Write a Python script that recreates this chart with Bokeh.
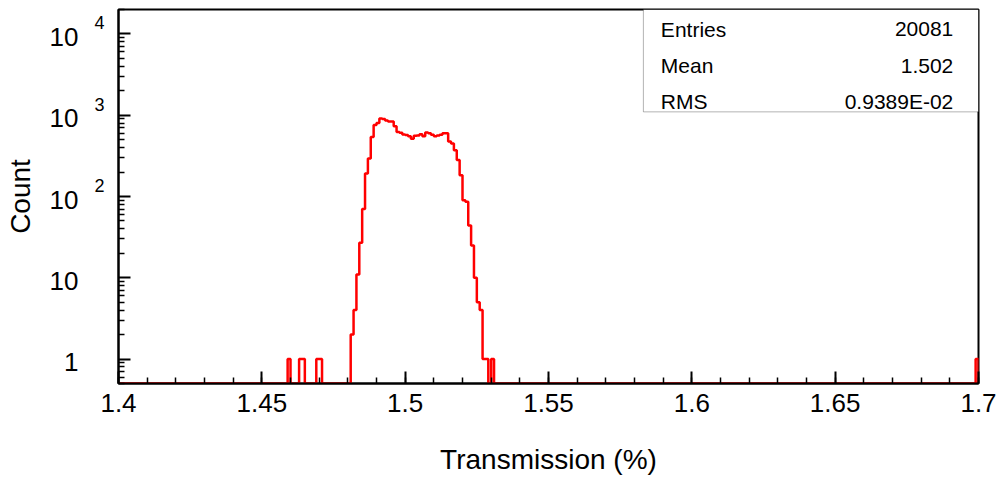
import numpy as np
from bokeh.plotting import figure
from bokeh.models import Range1d, FixedTicker, Label, BoxAnnotation, LogAxis
from bokeh.embed import file_html
from bokeh.resources import INLINE

# ---------------- data ----------------
bin_low = 1.4
bin_high = 1.7
n_bins = 300

# main peak, consecutive bins starting at 1.481 (bin width 0.001)
peak_first_bin = 1.481
peak_counts = [2, 4, 11, 27, 70, 192, 294, 540, 760, 800,
               910, 900, 860, 840, 840, 730, 620, 610, 580, 570,
               550, 515, 560, 565, 585, 550, 615, 600, 575, 550,
               565, 575, 600, 600, 475, 450, 372, 281, 183, 90,
               86, 44, 25, 10, 5, 4, 1, 1, 0, 1]

# isolated single-entry bins (lower edges)
isolated_bins = [1.459, 1.463, 1.464, 1.469, 1.470, 1.699]
isolated_counts = [1, 1, 1, 1, 1, 1]

x_ticks = [1.4, 1.45, 1.5, 1.55, 1.6, 1.65, 1.7]
x_tick_labels = ["1.4", "1.45", "1.5", "1.55", "1.6", "1.65", "1.7"]

y_ticks = [1, 10, 100, 1000, 10000]
y_tick_labels = ["1", "10", "10", "10", "10"]
y_tick_exponents = ["", "", "2", "3", "4"]

stat_names = ["Entries", "Mean", "RMS"]
stat_values = ["20081", "1.502", "0.9389E-02"]

x_title = "Transmission (%)"
y_title = "Count"

# ---------------- build histogram ----------------
width = (bin_high - bin_low) / n_bins
edges = np.linspace(bin_low, bin_high, n_bins + 1)
counts = np.zeros(n_bins)
i0 = int(round((peak_first_bin - bin_low) / width))
counts[i0:i0 + len(peak_counts)] = peak_counts
for b, c in zip(isolated_bins, isolated_counts):
    counts[int(round((b - bin_low) / width))] = c

y_min, y_max = 0.5, 20000
drawn = np.where(counts > 0, counts, y_min)
xs = np.repeat(edges, 2)
ys = np.concatenate([[y_min], np.repeat(drawn, 2), [y_min]])

FONT = "Liberation Sans"

p = figure(width=1001, height=480, y_axis_type="log",
           x_range=Range1d(bin_low, bin_high), y_range=Range1d(y_min, y_max),
           output_backend="svg", toolbar_location=None,
           min_border_left=118, min_border_right=23,
           min_border_top=9, min_border_bottom=97)

# label-only ranges, shifted by a few pixels (superscript raised, base lowered)
px_per_decade = 374.0 / np.log10(y_max / y_min)
exp_shift = 10 ** (-11.0 / px_per_decade)
base_shift = 10 ** (3.0 / px_per_decade)
p.extra_y_ranges = {
    "exp": Range1d(y_min * exp_shift, y_max * exp_shift),
    "base": Range1d(y_min * base_shift, y_max * base_shift),
}

p.background_fill_color = "white"
p.border_fill_color = "white"
p.outline_line_color = "black"
p.outline_line_width = 2
p.grid.visible = False

p.line(xs, ys, line_color="#ff0000", line_width=2.5)

# stats box
p.add_layout(BoxAnnotation(left=1.5831, right=bin_high, bottom=1100, top=y_max,
                           fill_color="white", fill_alpha=1.0,
                           line_color="black", line_width=1, level="overlay"))
stat_y = [11360, 4053, 1462]
for name, val, yy in zip(stat_names, stat_values, stat_y):
    p.add_layout(Label(x=1.5892, y=yy, text=name, text_font=FONT,
                       text_font_size="21px", text_align="left",
                       text_baseline="alphabetic", text_color="black", level="overlay"))
    p.add_layout(Label(x=1.6912, y=yy, text=val, text_font=FONT,
                       text_font_size="21px", text_align="right",
                       text_baseline="alphabetic", text_color="black", level="overlay"))

# x axis
xa = p.xaxis[0]
xa.ticker = FixedTicker(ticks=x_ticks,
                        minor_ticks=list(np.round(np.arange(140, 171) / 100.0, 2)))
xa.major_label_overrides = dict(zip(x_ticks, x_tick_labels))
xa.axis_label = x_title

# y axes: inner = ticks only, middle = exponents, outer = "10" bases + title
minor_y = [m * 10.0 ** k for k in range(-1, 5) for m in range(2, 10)]
minor_y = [v for v in minor_y if y_min <= v <= y_max]
ya = p.yaxis[0]
ya.ticker = FixedTicker(ticks=y_ticks, minor_ticks=minor_y)
ya.major_label_overrides = {t: "" for t in y_ticks}

ye = LogAxis(y_range_name="exp", ticker=FixedTicker(ticks=y_ticks, minor_ticks=[]))
ye.major_label_overrides = {t: e for t, e in zip(y_ticks, y_tick_exponents)}
p.add_layout(ye, "left")

yb = LogAxis(y_range_name="base", ticker=FixedTicker(ticks=y_ticks, minor_ticks=[]))
yb.major_label_overrides = {t: l for t, l in zip(y_ticks, y_tick_labels)}
yb.axis_label = y_title
p.add_layout(yb, "left")

for ax in (xa, ya, ye, yb):
    ax.axis_line_color = "black"
    ax.axis_line_width = 2
    ax.major_tick_in = 12
    ax.major_tick_out = 0
    ax.minor_tick_in = 6
    ax.minor_tick_out = 0
    ax.major_tick_line_width = 2
    ax.minor_tick_line_width = 1.5
    ax.major_tick_line_color = "black"
    ax.minor_tick_line_color = "black"
    ax.major_label_text_font = FONT
    ax.major_label_text_font_size = "26px"
    ax.major_label_text_color = "black"
    ax.axis_label_text_font = FONT
    ax.axis_label_text_font_size = "28px"
    ax.axis_label_text_font_style = "normal"
    ax.axis_label_text_color = "black"

ya.major_label_standoff = 0

for ax in (ye, yb):
    ax.axis_line_color = None
    ax.major_tick_line_color = None
    ax.minor_tick_line_color = None
    ax.major_tick_in = 0
    ax.minor_tick_in = 0

ye.major_label_text_font_size = "18px"
ye.major_label_standoff = 14
yb.major_label_standoff = 13
yb.axis_label_standoff = 11

xa.major_label_standoff = 10
xa.axis_label_standoff = 29

open("out.html", "w").write(file_html(p, INLINE))
